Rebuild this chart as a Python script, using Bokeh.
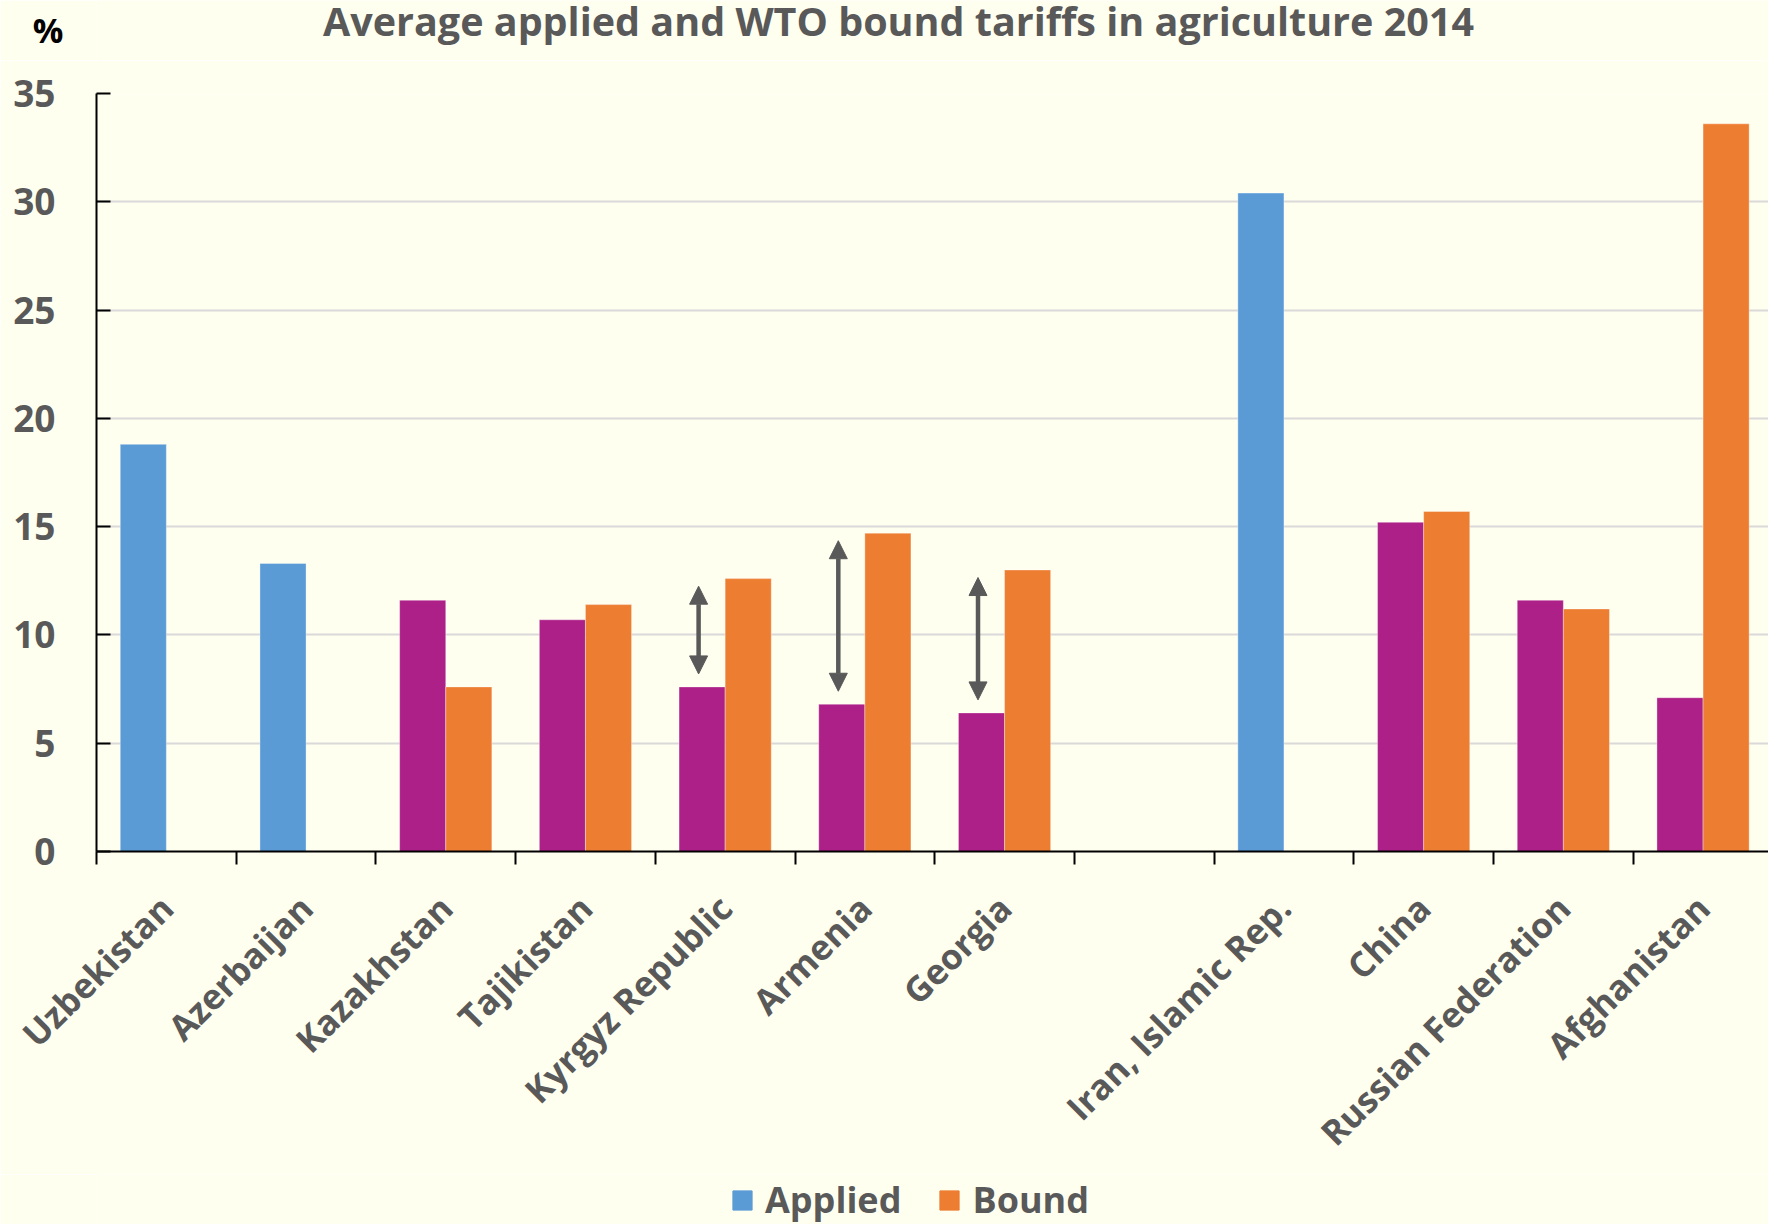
import numpy as np
from bokeh.plotting import figure
from bokeh.layouts import column
from bokeh.models import (Range1d, LinearAxis, FixedTicker, ColumnDataSource, Arrow,
                          NormalHead, Label, Legend, LegendItem, Grid)
from bokeh.embed import file_html
from bokeh.resources import INLINE

# ---------------- data ----------------
countries = ["Uzbekistan", "Azerbaijan", "Kazakhstan", "Tajikistan", "Kyrgyz Republic",
             "Armenia", "Georgia", "", "Iran, Islamic Rep.", "China",
             "Russian Federation", "Afghanistan"]
applied = [18.8, 13.3, 11.6, 10.7, 7.6, 6.8, 6.4, None, 30.4, 15.2, 11.6, 7.1]
bound = [None, None, 7.6, 11.4, 12.6, 14.7, 13.0, None, None, 15.7, 11.2, 33.6]
wto_member = [False, False, True, True, True, True, True, False, False, True, True, True]
arrow_countries = ["Kyrgyz Republic", "Armenia", "Georgia"]
y_ticks = [0, 5, 10, 15, 20, 25, 30, 35]
series_names = ["Applied", "Bound"]
title_text = "Average applied and WTO bound tariffs in agriculture 2014"
unit_text = "%"

# ---------------- style ----------------
BG = "#FFFFF0"
BLUE = "#5B9BD5"
ORANGE = "#ED7D31"
PURPLE = "#AD2087"
GREY = "#595959"
FONT = "Open Sans"

bar_w = 0.33
dodge = 0.165

n = len(countries)
centers = [i + 0.5 for i in range(n)]

nm_x, nm_top = [], []
m_x, m_top = [], []
b_x, b_top = [], []
for i, c in enumerate(countries):
    if applied[i] is not None:
        if wto_member[i]:
            m_x.append(centers[i] - dodge); m_top.append(applied[i])
        else:
            nm_x.append(centers[i] - dodge); nm_top.append(applied[i])
    if bound[i] is not None:
        b_x.append(centers[i] + dodge); b_top.append(bound[i])

W, H = 1768, 1224
top_h = 60
bottom_h = 50
frame_left, frame_bottom, frame_top = 96, 851, 93
slot_px = 139.7
x_end = (W - frame_left) / slot_px
main_h = H - top_h - bottom_h


def strip(height):
    f = figure(width=W, height=height, output_backend="svg", toolbar_location=None,
               x_range=Range1d(0, W - frame_left), y_range=Range1d(height, 0),
               x_axis_type=None, y_axis_type=None,
               min_border_left=frame_left, min_border_right=0, min_border_top=0,
               min_border_bottom=0,
               background_fill_color=BG, border_fill_color=BG, outline_line_color=None)
    f.grid.visible = False
    return f


# ---------------- top strip (title and unit) ----------------
top = strip(top_h)
unit_axis = LinearAxis(ticker=FixedTicker(ticks=[29]))
unit_axis.major_label_overrides = {29: unit_text}
unit_axis.axis_line_color = None
unit_axis.major_tick_line_color = None
unit_axis.minor_tick_line_color = None
unit_axis.major_tick_in = 0
unit_axis.major_tick_out = 0
unit_axis.major_label_standoff = 33
unit_axis.major_label_text_font = FONT
unit_axis.major_label_text_font_style = "bold"
unit_axis.major_label_text_font_size = "34px"
unit_axis.major_label_text_color = "black"
top.add_layout(unit_axis, "left")
top.add_layout(Label(x=898 - frame_left, y=20, text=title_text, text_align="center",
                     text_baseline="middle", text_font=FONT, text_font_style="bold",
                     text_font_size="39.5px", text_color=GREY))

# ---------------- main chart ----------------
p = figure(width=W, height=main_h, output_backend="svg", toolbar_location=None,
           x_range=Range1d(0, x_end), y_range=Range1d(0, 35),
           x_axis_type=None, y_axis_type=None,
           min_border_left=frame_left, min_border_right=0,
           min_border_top=frame_top - top_h,
           min_border_bottom=main_h - (frame_bottom - top_h),
           background_fill_color=BG, border_fill_color=BG, outline_line_color=None)

ygrid = Grid(dimension=1, ticker=FixedTicker(ticks=y_ticks), grid_line_color="#D9D9D9",
             grid_line_width=2)
p.add_layout(ygrid, "center")

p.vbar(x=nm_x, top=nm_top, width=bar_w, bottom=0, fill_color=BLUE,
       line_color="white", line_alpha=0.35, line_width=1)
p.vbar(x=m_x, top=m_top, width=bar_w, bottom=0, fill_color=PURPLE,
       line_color="white", line_alpha=0.35, line_width=1)
p.vbar(x=b_x, top=b_top, width=bar_w, bottom=0, fill_color=ORANGE,
       line_color="white", line_alpha=0.35, line_width=1)

yaxis = LinearAxis(ticker=FixedTicker(ticks=y_ticks))
yaxis.axis_line_color = "black"
yaxis.axis_line_width = 2
yaxis.major_tick_in = 14
yaxis.major_tick_out = 0
yaxis.major_tick_line_color = "black"
yaxis.major_tick_line_width = 2
yaxis.minor_tick_line_color = None
yaxis.major_label_standoff = 41
yaxis.major_label_text_font = FONT
yaxis.major_label_text_font_style = "bold"
yaxis.major_label_text_font_size = "37px"
yaxis.major_label_text_color = GREY
p.add_layout(yaxis, "left")

label_ticks = [centers[i] for i, c in enumerate(countries) if c]
overrides = {centers[i]: c for i, c in enumerate(countries) if c}
xaxis = LinearAxis(ticker=FixedTicker(ticks=label_ticks, minor_ticks=list(range(n + 1))))
xaxis.major_label_overrides = overrides
xaxis.axis_line_color = "black"
xaxis.axis_line_width = 2
xaxis.major_tick_in = 0
xaxis.major_tick_out = 0
xaxis.major_tick_line_color = None
xaxis.minor_tick_in = 0
xaxis.minor_tick_out = 13
xaxis.minor_tick_line_color = "black"
xaxis.minor_tick_line_width = 2
xaxis.major_label_orientation = np.pi / 4
xaxis.major_label_standoff = 37
xaxis.major_label_text_font = FONT
xaxis.major_label_text_font_style = "bold"
xaxis.major_label_text_font_size = "35px"
xaxis.major_label_text_color = GREY
p.add_layout(xaxis, "below")

# arrows between applied and bound
a_x, a_y0, a_y1 = [], [], []
for c in arrow_countries:
    i = countries.index(c)
    a_x.append(centers[i] - dodge - 0.025)
    a_y0.append(applied[i] + 0.6)
    a_y1.append(bound[i] - 0.35)
asrc = ColumnDataSource(dict(x=a_x, y0=a_y0, y1=a_y1))
p.add_layout(Arrow(x_start="x", y_start="y0", x_end="x", y_end="y1", source=asrc,
                   line_color=GREY, line_width=4.5,
                   start=NormalHead(size=18, fill_color=GREY, line_color=GREY, line_width=1),
                   end=NormalHead(size=18, fill_color=GREY, line_color=GREY, line_width=1)))

# ---------------- bottom strip (legend) ----------------
bot = strip(bottom_h)
leg_app = bot.vbar(x=nm_x, top=nm_top, width=bar_w, fill_color=BLUE, line_color=BLUE,
                   visible=False)
leg_bnd = bot.vbar(x=b_x, top=b_top, width=bar_w, fill_color=ORANGE, line_color=ORANGE,
                   visible=False)
legend = Legend(items=[LegendItem(label=series_names[0], renderers=[leg_app]),
                       LegendItem(label=series_names[1], renderers=[leg_bnd])],
                orientation="horizontal", location=(730 - frame_left, 0),
                padding=0, margin=0, spacing=36, label_standoff=11,
                glyph_width=24, glyph_height=24, label_height=24,
                border_line_color=None, background_fill_alpha=0,
                inactive_fill_alpha=0,
                label_text_font=FONT, label_text_font_style="bold",
                label_text_font_size="36px", label_text_color=GREY)
bot.add_layout(legend, "center")

layout = column(top, p, bot, spacing=0)
open("out.html", "w").write(file_html(layout, INLINE))
